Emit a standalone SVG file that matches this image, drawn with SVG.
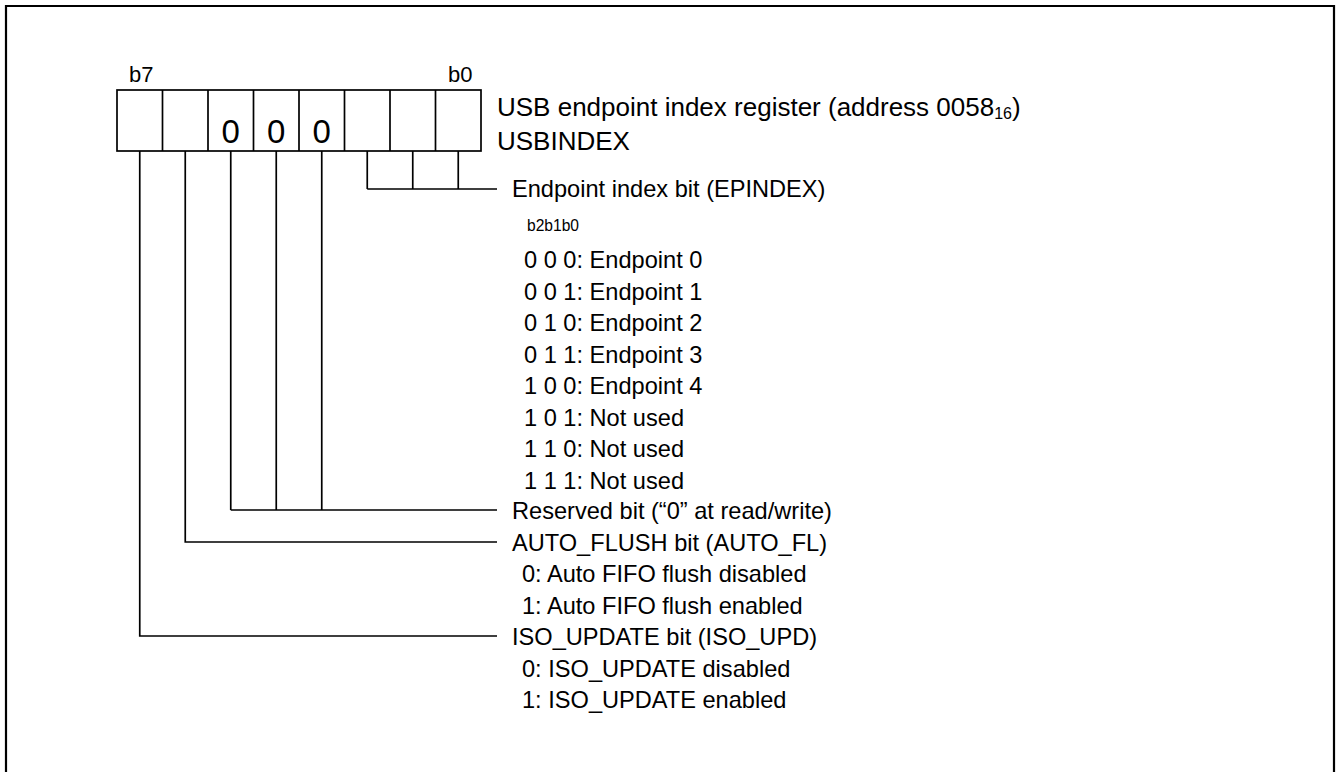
<svg xmlns="http://www.w3.org/2000/svg" width="1337" height="772" viewBox="0 0 1337 772">
<style>
.t{font-family:"Liberation Sans",Arial,sans-serif;font-size:23.6px;fill:#000}
.h{font-family:"Liberation Sans",Arial,sans-serif;font-size:26px;fill:#000}
.b{font-family:"Liberation Sans",Arial,sans-serif;font-size:22px;fill:#000}
.s{font-family:"Liberation Sans",Arial,sans-serif;font-size:15.6px;fill:#000}
.z{font-family:"Liberation Sans",Arial,sans-serif;font-size:33px;fill:#000;text-anchor:middle}
.ln{fill:none;stroke:#000;stroke-width:1.7}
</style>
<rect width="1337" height="772" fill="#fff"/>
<path d="M6,790 V6 H1334 V790" fill="none" stroke="#000" stroke-width="2.2"/>
<g id="register">
<text class="b" x="129" y="82">b7</text>
<text class="b" x="448" y="82">b0</text>
<rect class="ln" x="117" y="90" width="364" height="61"/>
<path class="ln" d="M162.5,90V151M208,90V151M253.5,90V151M299,90V151M344.5,90V151M390,90V151M435.5,90V151"/>
<text class="z" x="230.75" y="143">0</text>
<text class="z" x="276.25" y="143">0</text>
<text class="z" x="321.75" y="143">0</text>
<text class="h" x="497" y="116">USB endpoint index register (address 0058<tspan font-size="16" dy="3">16</tspan><tspan dy="-3">)</tspan></text>
<text class="h" x="497" y="150">USBINDEX</text>
</g>
<g id="connectors">
<path class="ln" d="M367.25,151V189M412.75,151V189M458.25,151V189M367.25,189H497"/>
<path class="ln" d="M230.75,151V510M276.25,151V510M321.75,151V510M230.75,510H497"/>
<path class="ln" d="M185.25,151V542H497"/>
<path class="ln" d="M139.75,151V636H497"/>
</g>
<g id="epindex">
<text class="t" x="512" y="197">Endpoint index bit (EPINDEX)</text>
<text class="s" x="527" y="231">b2b1b0</text>
<text class="t" x="524" y="268">0 0 0: Endpoint 0</text>
<text class="t" x="524" y="299.5">0 0 1: Endpoint 1</text>
<text class="t" x="524" y="331">0 1 0: Endpoint 2</text>
<text class="t" x="524" y="362.5">0 1 1: Endpoint 3</text>
<text class="t" x="524" y="394">1 0 0: Endpoint 4</text>
<text class="t" x="524" y="425.5">1 0 1: Not used</text>
<text class="t" x="524" y="457">1 1 0: Not used</text>
<text class="t" x="524" y="488.5">1 1 1: Not used</text>
</g>
<g id="reserved">
<text class="t" x="512" y="519">Reserved bit (“0” at read/write)</text>
</g>
<g id="autoflush">
<text class="t" x="512" y="550.5">AUTO_FLUSH bit (AUTO_FL)</text>
<text class="t" x="522" y="582">0: Auto FIFO flush disabled</text>
<text class="t" x="522" y="613.5">1: Auto FIFO flush enabled</text>
</g>
<g id="isoupdate">
<text class="t" x="512" y="645">ISO_UPDATE bit (ISO_UPD)</text>
<text class="t" x="522" y="676.5">0: ISO_UPDATE disabled</text>
<text class="t" x="522" y="708">1: ISO_UPDATE enabled</text>
</g>
</svg>
